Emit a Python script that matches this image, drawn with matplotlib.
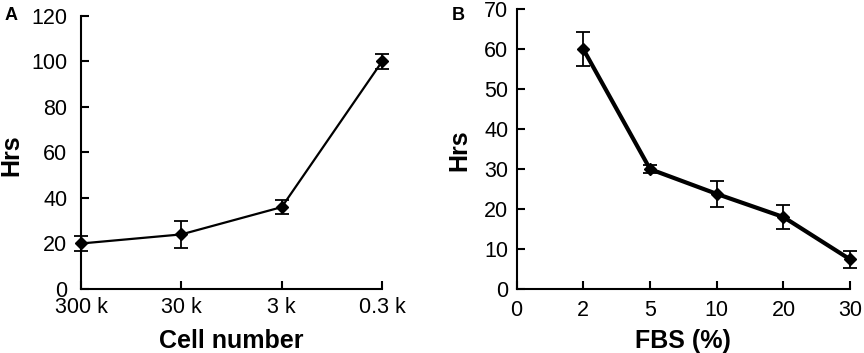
import matplotlib
matplotlib.use("Agg")
import matplotlib.pyplot as plt
import numpy as np

plt.rcParams['font.family'] = ['Liberation Sans', 'DejaVu Sans']

# Panel A data
cell_labels = ["300 k", "30 k", "3 k", "0.3 k"]
hrs_a = [20, 24, 36, 100]
err_a = [3.2, 6, 3, 3.3]

# Panel B data
fbs_labels = ["0", "2", "5", "10", "20", "30"]
fbs_points = ["2", "5", "10", "20", "30"]
hrs_b = [60, 30, 23.8, 18, 7.4]
err_b = [4.2, 1, 3.3, 3, 2.1]

fig = plt.figure(figsize=(8.64, 3.53), dpi=100)
axA = fig.add_axes([0.0938, 0.1813, 0.3484, 0.7734])
axB = fig.add_axes([0.598, 0.1813, 0.386, 0.7923])

def style(ax):
    for s in ['top', 'right']:
        ax.spines[s].set_visible(False)
    for s in ['left', 'bottom']:
        ax.spines[s].set_linewidth(1.5)
    ax.tick_params(direction='in', length=6, width=1.5, labelsize=15.5)

# Panel A
xa = np.arange(len(cell_labels))
axA.errorbar(xa, hrs_a, yerr=err_a, color='black', lw=1.6, marker='D',
             markersize=6.5, capsize=5, elinewidth=1.3, capthick=1.3, clip_on=False, zorder=3)
axA.set_xlim(0, len(cell_labels) - 1)
axA.set_ylim(0, 120)
axA.set_yticks(range(0, 121, 20))
axA.set_xticks(xa)
axA.set_xticklabels(cell_labels)
style(axA)
axA.tick_params(axis='y', pad=10)
axA.tick_params(axis='x', pad=6)
axA.set_ylabel("Hrs", fontsize=18, fontweight='bold')
axA.yaxis.label.set_verticalalignment('center')
axA.yaxis.set_label_coords(-0.232, 0.49)
axA.set_xlabel("Cell number", fontsize=18, fontweight='bold', labelpad=8)
fig.text(0.005, 0.957, "A", fontsize=13, fontweight='bold', va='center', ha='left')

# Panel B
xb_all = np.arange(len(fbs_labels))
xb = [fbs_labels.index(v) for v in fbs_points]
axB.errorbar(xb, hrs_b, yerr=err_b, color='black', lw=3.0, marker='D',
             markersize=6.5, capsize=5, elinewidth=1.3, capthick=1.3, clip_on=False, zorder=3)
axB.set_xlim(0, len(fbs_labels) - 1)
axB.set_ylim(0, 70)
axB.set_yticks(range(0, 71, 10))
axB.set_xticks(xb_all)
axB.set_xticklabels(fbs_labels)
style(axB)
axB.tick_params(axis='y', pad=6)
axB.tick_params(axis='x', pad=8)
axB.set_ylabel("Hrs", fontsize=18, fontweight='bold')
axB.yaxis.label.set_verticalalignment('center')
axB.yaxis.set_label_coords(-0.171, 0.497)
axB.set_xlabel("FBS (%)", fontsize=18, fontweight='bold', labelpad=6)
fig.text(0.523, 0.957, "B", fontsize=13, fontweight='bold', va='center', ha='left')

fig.savefig("out.png", dpi=100)
